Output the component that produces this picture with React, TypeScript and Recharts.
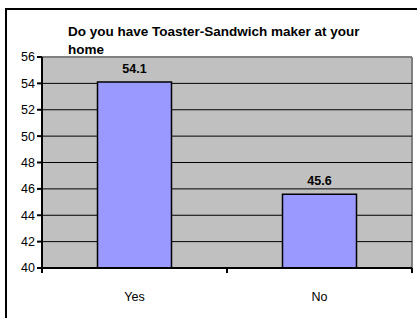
import { BarChart, Bar, XAxis, YAxis, CartesianGrid, LabelList, ReferenceLine } from "recharts";

const answers = ["Yes", "No"];
const percents = [54.1, 45.6];
const yTicks = [40, 42, 44, 46, 48, 50, 52, 54, 56];

const data = answers.map((name, i) => ({ name, value: percents[i] }));

const W = 417;
const H = 318;
const margin = { top: 57, right: 5, left: 0, bottom: 0 };
const yAxisW = 42;
const xAxisH = 50;
const halfBand = (W - margin.left - margin.right - yAxisW) / answers.length / 2;

const font = "'Liberation Sans', Arial, sans-serif";

const XTick = (props: any) => {
  const { x, y, payload, index } = props;
  return (
    <g>
      <line x1={x - halfBand} y1={y - 8} x2={x - halfBand} y2={y - 3} stroke="#000" strokeWidth={2} />
      {index === answers.length - 1 && (
        <line x1={x + halfBand} y1={y - 8} x2={x + halfBand} y2={y - 3} stroke="#000" strokeWidth={2} />
      )}
      <text x={x} y={y + 25} textAnchor="middle" fontSize={12.5} fontFamily={font} fill="#000">
        {payload.value}
      </text>
    </g>
  );
};

const App = () => {
  return (
    <div style={{ position: "absolute", left: 0, top: 0, width: W, height: H, overflow: "hidden", background: "#fff" }}>
      <div
        style={{
          position: "absolute",
          left: 5,
          top: 8,
          width: W,
          height: H,
          borderTop: "2px solid #000",
          borderLeft: "2px solid #000",
        }}
      />
      <div style={{ position: "absolute", left: 0, top: 0 }}>
        <BarChart width={W} height={H} data={data} margin={margin} barCategoryGap="30%">
          <CartesianGrid
            fill="#C0C0C0"
            stroke="#808080"
            strokeWidth={2}
            horizontal={false}
            verticalCoordinatesGenerator={({ offset }: any) => [offset.left + offset.width]}
          />
          <CartesianGrid stroke="#000" vertical={false} />
          <ReferenceLine y={56} stroke="#808080" strokeWidth={2} />
          <XAxis
            dataKey="name"
            height={xAxisH}
            axisLine={{ stroke: "#000", strokeWidth: 2 }}
            tickLine={false}
            tick={<XTick />}
            interval={0}
          />
          <YAxis
            width={yAxisW}
            domain={[40, 56]}
            ticks={yTicks}
            allowDataOverflow
            axisLine={{ stroke: "#000", strokeWidth: 2 }}
            tickLine={{ stroke: "#000", strokeWidth: 2 }}
            tickSize={5}
            tick={{ fontSize: 12.5, fontFamily: font, fill: "#000" }}
          />
          <Bar dataKey="value" fill="#9999FF" stroke="#000" strokeWidth={1.5} isAnimationActive={false}>
            <LabelList
              dataKey="value"
              position="top"
              offset={9}
              style={{ fontSize: 12.5, fontWeight: "bold", fontFamily: font, fill: "#000" }}
            />
          </Bar>
        </BarChart>
      </div>
      <div
        style={{
          position: "absolute",
          left: 68,
          top: 23,
          width: 305,
          fontFamily: font,
          fontSize: 13.5,
          fontWeight: "bold",
          lineHeight: "18px",
          color: "#000",
        }}
      >
        Do you have Toaster-Sandwich maker at your home
      </div>
    </div>
  );
};

export default App;
